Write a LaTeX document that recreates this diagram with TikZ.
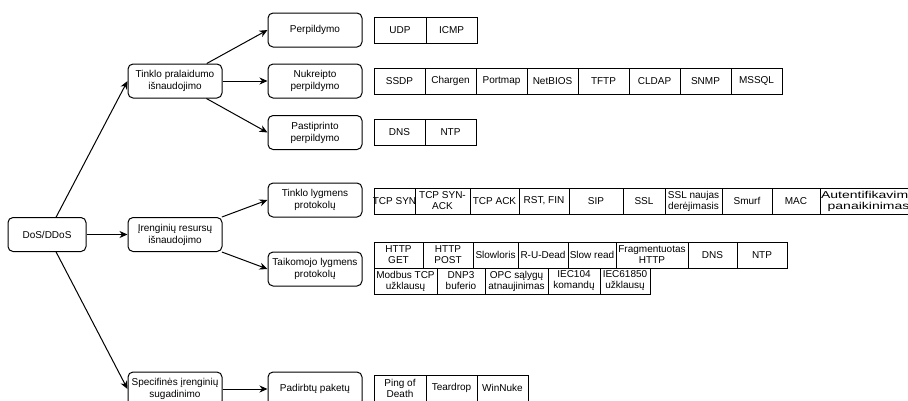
\documentclass[tikz,border=0pt]{standalone}
\usepackage{fontspec}
\setmainfont{Liberation Sans}
% widened face for the last, squeezed column
\newfontfamily\widesans[FakeStretch=1.4]{Liberation Sans}
\usetikzlibrary{arrows.meta}

% one cell of a protocol strip: name, left x, right x, centre y, text
\newcommand\leafcell[5]{%
  \node[cell, minimum width={#3-#2}] (#1) at ({(#2+#3)/2},#4) {#5};}

\begin{document}
\begin{tikzpicture}[x=1pt,y=-1pt,
  box/.style={draw, rounded corners=5pt, line width=1pt, minimum width=94pt,
    minimum height=34pt, inner sep=0pt, align=center,
    font=\fontsize{10}{12}\selectfont},
  cell/.style={draw, line width=1pt, minimum height=26pt, inner sep=0pt,
    align=center, font=\fontsize{10}{11}\selectfont},
  link/.style={line width=1pt, -{Stealth[length=8pt,width=7pt,inset=2.5pt]}}]
\useasboundingbox (0,0) rectangle (908,400);

% root and first level
\node[box, minimum width=78pt] (dos) at (47,234.5) {DoS/DDoS};
\node[box] (tinklo) at (175,81) {Tinklo pralaidumo\\išnaudojimo};
\node[box] (iren) at (175,234.5) {Įrenginių resursų\\išnaudojimo};
\node[box] (spec) at (175,389) {Specifinės įrenginių\\sugadinimo};

% second level
\node[box] (perp) at (315,30) {Perpildymo};
\node[box] (nukr) at (315,81) {Nukreipto\\perpildymo};
\node[box] (past) at (315,132.5) {Pastiprinto\\perpildymo};
\node[box] (tlyg) at (315,200) {Tinklo lygmens\\protokolų};
\node[box] (taik) at (315,269) {Taikomojo lygmens\\protokolų};
\node[box] (padi) at (315,389) {Padirbtų paketų};

% connectors
\draw[link] (dos) -- (tinklo.west);
\draw[link] (dos) -- (iren.west);
\draw[link] (dos) -- (spec.west);
\draw[link] (tinklo) -- (perp.west);
\draw[link] (tinklo) -- (nukr.west);
\draw[link] (tinklo) -- (past.west);
\draw[link] (iren) -- (tlyg.west);
\draw[link] (iren) -- (taik.west);
\draw[link] (spec) -- (padi.west);

% flood protocols
\leafcell{udp}{374}{426}{30}{UDP}
\leafcell{icmp}{426}{477}{30}{ICMP}

% reflection protocols
\leafcell{ssdp}{374}{425}{81}{SSDP}
\leafcell{chargen}{425}{476}{81}{Chargen}
\leafcell{portmap}{476}{527}{81}{Portmap}
\leafcell{netbios}{527}{578}{81}{NetBIOS}
\leafcell{tftp}{578}{629}{81}{TFTP}
\leafcell{cldap}{629}{680}{81}{CLDAP}
\leafcell{snmp}{680}{731}{81}{SNMP}
\leafcell{mssql}{731}{782}{81}{MSSQL}

% amplification protocols
\leafcell{dnsA}{374}{425}{132}{DNS}
\leafcell{ntpA}{425}{476}{132}{NTP}

% network layer attacks
\leafcell{tcpsyn}{374}{415}{201}{\makebox[0pt]{TCP SYN}}
\leafcell{synack}{415}{470}{201}{TCP SYN-\\ACK}
\leafcell{tcpack}{470}{519}{201}{TCP ACK}
\leafcell{rstfin}{519}{569}{201}{RST, FIN}
\leafcell{sip}{569}{623}{201}{SIP}
\leafcell{ssl}{623}{665}{201}{SSL}
\leafcell{sslneg}{665}{722}{201}{SSL naujas\\derėjimasis}
\leafcell{smurf}{722}{772}{201}{Smurf}
\leafcell{mac}{772}{820}{201}{MAC}
\leafcell{deauth}{820}{917}{201}{\widesans Autentifikavimo\\\widesans panaikinimas}

% application layer attacks
\leafcell{httpget}{374}{423}{255}{HTTP\\GET}
\leafcell{httppost}{423}{473}{255}{HTTP\\POST}
\leafcell{slowloris}{473}{518}{255}{Slowloris}
\leafcell{rudead}{518}{568}{255}{R-U-Dead}
\leafcell{slowread}{568}{616}{255}{Slow read}
\leafcell{fraghttp}{616}{688}{255}{Fragmentuotas\\HTTP}
\leafcell{dnsB}{688}{737}{255}{DNS}
\leafcell{ntpB}{737}{787}{255}{NTP}
\leafcell{modbus}{374}{437}{281}{Modbus TCP\\užklausų}
\leafcell{dnp}{437}{485}{281}{DNP3\\buferio}
\leafcell{opc}{485}{548}{281}{OPC sąlygų\\atnaujinimas}
\leafcell{iecA}{548}{600}{281}{IEC104\\komandų}
\leafcell{iecB}{600}{650}{281}{IEC61850\\užklausų}

% malformed packets
\leafcell{ping}{374}{426}{388}{Ping of\\Death}
\leafcell{tear}{426}{477}{388}{Teardrop}
\leafcell{winnuke}{477}{528}{388}{WinNuke}
\end{tikzpicture}
\end{document}
